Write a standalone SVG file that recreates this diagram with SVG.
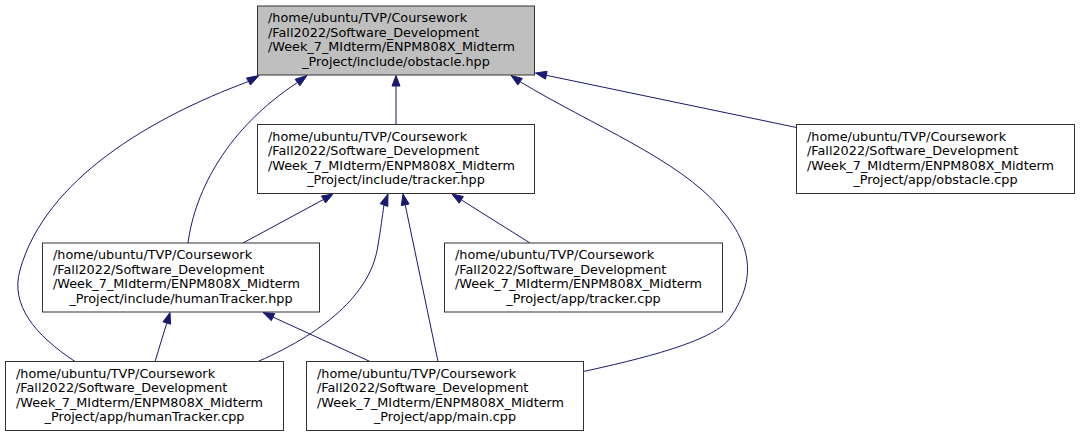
<svg xmlns="http://www.w3.org/2000/svg" width="1080" height="437" viewBox="0 0 1080 437">
<style>
.box{fill:#ffffff;stroke:#333333;stroke-width:1}
.root{fill:#bfbfbf;stroke:#333333;stroke-width:1}
text{font-family:"DejaVu Sans","Liberation Sans",sans-serif;font-size:12.8px;fill:#000000}
.c{text-anchor:middle}
.e{fill:none;stroke:#191970;stroke-width:1}
.a{fill:#191970;stroke:#191970;stroke-width:1}
</style>
<rect width="1080" height="437" fill="#ffffff"/>
<g id="edges">
<path class="e" d="M796.5,127.5 L546.3,75.3"/>
<polygon class="a" points="535.5,73 545.5,79.2 547.1,71.3"/>
<path class="e" d="M583.5,371.5 C650,357 715,340 730,318 C760,275 748,240 720,208 C680,160 590,124 520.1,81.7"/>
<polygon class="a" points="511,75.5 522.3,78.4 517.9,85"/>
<path class="e" d="M75,361.5 C35,335 10,305 20,270 C45,180 150,118 248.5,81.5"/>
<polygon class="a" points="259,75.5 250.5,85 246.5,78"/>
<path class="e" d="M188,243 C195,190 228,128 297.5,82.5"/>
<polygon class="a" points="307,75.5 299.9,85.7 295.1,79.3"/>
<path class="e" d="M396,124.5 L396,86"/>
<polygon class="a" points="396,75.5 392,86 400,86"/>
<path class="e" d="M243,243 L323.5,199.5"/>
<polygon class="a" points="333,194 325.5,203 321.5,196"/>
<path class="e" d="M258,361.5 C330,330 372,290 378,245 C381,228 382,218 384,205"/>
<polygon class="a" points="388,194 387.8,206.4 380.2,203.6"/>
<path class="e" d="M438,361.5 L405.2,204.8"/>
<polygon class="a" points="403,194 409.1,204 401.3,205.6"/>
<path class="e" d="M155,361.5 L166.8,323"/>
<polygon class="a" points="170,312.5 170.6,324.2 163,321.8"/>
<path class="e" d="M370,361.5 L273,317.1"/>
<polygon class="a" points="263,312.5 274.7,313.5 271.3,320.7"/>
<path class="e" d="M530,243 L461.3,199.9"/>
<polygon class="a" points="452,194 463.4,196.5 459.2,203.3"/>
</g>
<g id="node-obstacle-hpp">
<rect class="root" x="257.5" y="6" width="277" height="69"/>
<text x="268" y="22">/home/ubuntu/TVP/Coursework</text>
<text x="268" y="36.5">/Fall2022/Software_Development</text>
<text x="268" y="51">/Week_7_MIdterm/ENPM808X_Midterm</text>
<text class="c" x="396" y="65.5">_Project/include/obstacle.hpp</text>
</g>
<g id="node-tracker-hpp">
<rect class="box" x="257.5" y="124.5" width="277" height="69"/>
<text x="268" y="140.5">/home/ubuntu/TVP/Coursework</text>
<text x="268" y="155">/Fall2022/Software_Development</text>
<text x="268" y="169.5">/Week_7_MIdterm/ENPM808X_Midterm</text>
<text class="c" x="396" y="184">_Project/include/tracker.hpp</text>
</g>
<g id="node-obstacle-cpp">
<rect class="box" x="796.5" y="124.5" width="278" height="69"/>
<text x="807" y="140.5">/home/ubuntu/TVP/Coursework</text>
<text x="807" y="155">/Fall2022/Software_Development</text>
<text x="807" y="169.5">/Week_7_MIdterm/ENPM808X_Midterm</text>
<text class="c" x="935.5" y="184">_Project/app/obstacle.cpp</text>
</g>
<g id="node-humanTracker-hpp">
<rect class="box" x="42.5" y="243" width="277" height="69"/>
<text x="53" y="259">/home/ubuntu/TVP/Coursework</text>
<text x="53" y="273.5">/Fall2022/Software_Development</text>
<text x="53" y="288">/Week_7_MIdterm/ENPM808X_Midterm</text>
<text class="c" x="181" y="302.5">_Project/include/humanTracker.hpp</text>
</g>
<g id="node-tracker-cpp">
<rect class="box" x="444.5" y="243" width="278" height="69"/>
<text x="455" y="259">/home/ubuntu/TVP/Coursework</text>
<text x="455" y="273.5">/Fall2022/Software_Development</text>
<text x="455" y="288">/Week_7_MIdterm/ENPM808X_Midterm</text>
<text class="c" x="583.5" y="302.5">_Project/app/tracker.cpp</text>
</g>
<g id="node-humanTracker-cpp">
<rect class="box" x="5.5" y="361.5" width="278" height="69"/>
<text x="16" y="377.5">/home/ubuntu/TVP/Coursework</text>
<text x="16" y="392">/Fall2022/Software_Development</text>
<text x="16" y="406.5">/Week_7_MIdterm/ENPM808X_Midterm</text>
<text class="c" x="144.5" y="421">_Project/app/humanTracker.cpp</text>
</g>
<g id="node-main-cpp">
<rect class="box" x="306.5" y="361.5" width="277" height="69"/>
<text x="317" y="377.5">/home/ubuntu/TVP/Coursework</text>
<text x="317" y="392">/Fall2022/Software_Development</text>
<text x="317" y="406.5">/Week_7_MIdterm/ENPM808X_Midterm</text>
<text class="c" x="445" y="421">_Project/app/main.cpp</text>
</g>
</svg>
